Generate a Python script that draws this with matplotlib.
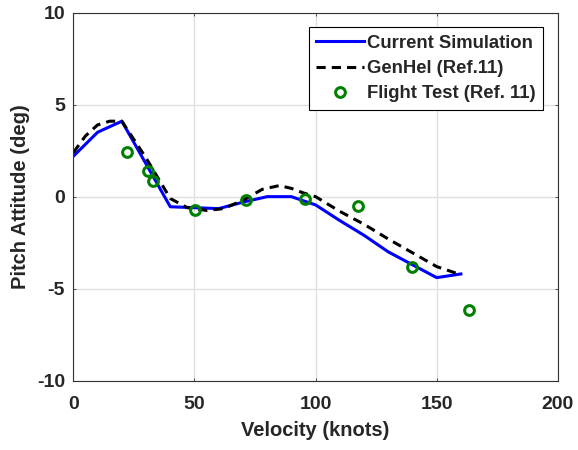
import numpy as np
import matplotlib.pyplot as plt

plt.rcParams['font.family'] = ['Liberation Sans', 'DejaVu Sans']
plt.rcParams['font.weight'] = 'bold'
plt.rcParams['axes.unicode_minus'] = False

# Current simulation
sim_v = [0, 10, 20, 40, 60, 70, 80, 90, 100, 110, 120, 130, 140, 150, 160]
sim_theta = [2.2, 3.5, 4.1, -0.55, -0.65, -0.3, 0.0, 0.0, -0.45, -1.3, -2.1, -3.0, -3.7, -4.4, -4.2]

# GenHel (Ref. 11)
genhel_v = [0, 5, 10, 15, 20, 30, 40, 47, 55, 62, 70, 78, 85, 90, 95, 100, 110, 120, 130, 140, 150, 159]
genhel_theta = [2.4, 3.3, 3.9, 4.1, 4.1, 2.1, -0.1, -0.6, -0.75, -0.65, -0.2, 0.4, 0.6, 0.45, 0.2, 0.0, -0.8, -1.5, -2.3, -3.05, -3.8, -4.2]

# Flight test (Ref. 11)
ft_v = [22.2, 30.9, 32.7, 50.2, 71.2, 95.5, 117.6, 139.7, 163.4]
ft_theta = [2.43, 1.42, 0.87, -0.71, -0.2, -0.11, -0.53, -3.81, -6.18]

txt = '#262626'

fig = plt.figure(figsize=(5.78, 4.5), dpi=100)
ax = fig.add_axes([0.127, 0.154, 0.838, 0.818])

ax.plot(sim_v, sim_theta, color='#0000ff', lw=2.2, label='Current Simulation')
ax.plot(genhel_v, genhel_theta, color='black', lw=2.2, ls=(0, (3, 2)), label='GenHel (Ref.11)')
ax.plot(ft_v, ft_theta, ls='none', marker='o', ms=7, mfc='none', mec='#008000', mew=2.2,
        label='Flight Test (Ref. 11)')

ax.set_xlim(0, 200)
ax.set_ylim(-10, 10)
ax.set_xticks([0, 50, 100, 150, 200])
ax.set_yticks([-10, -5, 0, 5, 10])
ax.grid(True, color='#e0e0e0', lw=1)
ax.tick_params(direction='in', length=2.5, width=0.6, color='#333333',
               top=True, right=True, labelsize=14, labelcolor=txt)
ax.tick_params(axis='x', pad=11)
ax.tick_params(axis='y', pad=6)
for s in ax.spines.values():
    s.set_color('#333333')
    s.set_linewidth(0.8)

ax.set_xlabel('Velocity (knots)', fontsize=14.5, fontweight='bold', labelpad=6, color=txt)
ax.set_ylabel('Pitch Attitude (deg)', fontsize=14.5, fontweight='bold', labelpad=5, color=txt)

leg = ax.legend(loc='upper right', fontsize=13.3, frameon=True, fancybox=False,
                edgecolor='black', framealpha=1, handlelength=2.6, borderpad=0.4,
                labelspacing=0.45, handletextpad=0.15, borderaxespad=0.8)
leg.get_frame().set_linewidth(0.8)
for t in leg.get_texts():
    t.set_color(txt)

fig.savefig('out.png', dpi=100)
